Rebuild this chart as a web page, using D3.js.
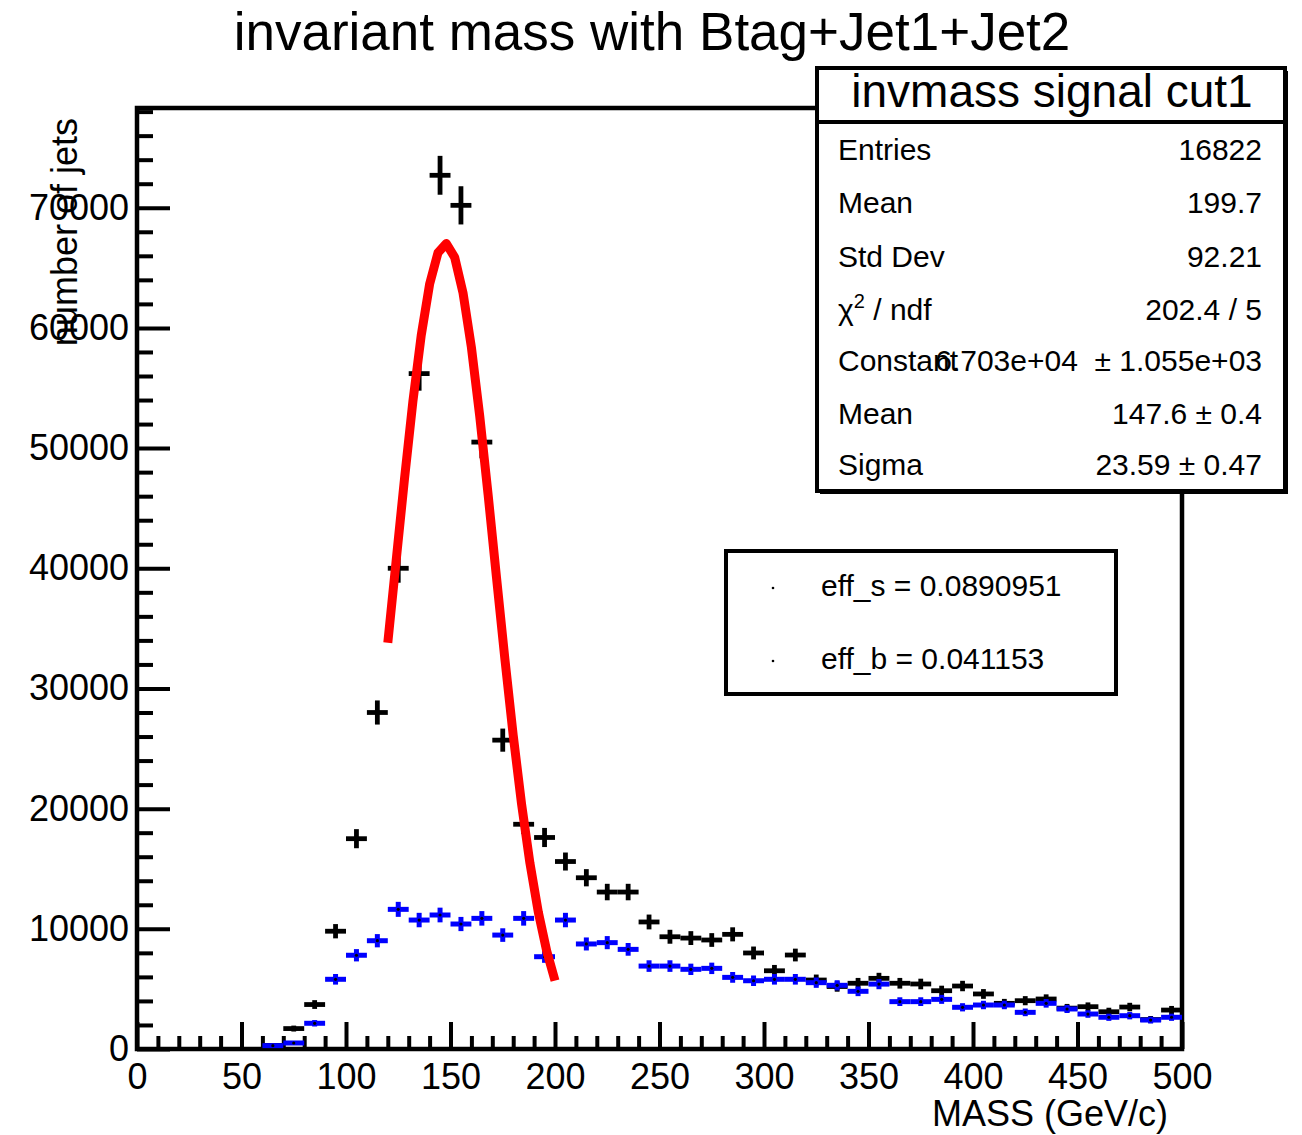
<!DOCTYPE html>
<html><head><meta charset="utf-8">
<script src="https://cdn.jsdelivr.net/npm/d3@7"></script>
<style>
body{margin:0;background:#fff}
svg{display:block}
text{font-family:"Liberation Sans",Arial,Helvetica,sans-serif;fill:#000}
</style>
</head><body>
<svg id="c" width="1302" height="1135"></svg>
<script>
// ---------------- data ----------------
const binCenters = [65,75,85,95,105,115,125,135,145,155,165,175,185,195,205,215,225,235,245,255,265,275,285,295,305,315,325,335,345,355,365,375,385,395,405,415,425,435,445,455,465,475,485,495];
const binWidth = 10;
// black histogram (signal, with fit)
const sigValues = [300,1700,3700,9800,17500,28000,40000,56200,72700,70200,50500,25700,18700,17600,15600,14250,13060,13060,10570,9340,9230,9070,9540,7990,6510,7820,5740,5200,5470,5880,5470,5410,4850,5240,4580,3800,4020,4160,3400,3520,3100,3490,2450,3240];
const sigErrors = [104,247,365,594,794,1004,1200,1422,1618,1590,1348,962,820,796,749,716,686,686,617,580,576,571,586,536,484,531,455,433,444,460,444,441,418,434,406,370,380,387,350,356,334,354,297,342];
// blue histogram
const bkgValues = [280,500,2140,5800,7800,9010,11620,10730,11150,10400,10870,9480,10870,7680,10730,8740,8850,8290,6900,6900,6630,6710,5960,5680,5800,5800,5520,5300,4800,5400,3940,3940,4130,3470,3660,3660,3050,3800,3330,2910,2640,2770,2410,2640];
const bkgErrors = [97,130,268,442,512,551,625,601,612,591,605,565,605,508,601,542,546,528,482,482,472,475,448,437,442,442,431,422,402,426,364,364,373,342,351,351,320,358,335,313,298,305,285,298];
// gaussian fit curve samples (Constant 6.703e+04, Mean 147.6, Sigma 23.59)
const fitX = [120,124,128,132,136,140,144,148,152,156,160,164,168,172,176,180,184,188,192,196,200];
const fitY = [33810,40640,47460,53870,59390,63640,66250,67020,65870,62910,58380,52640,46120,39260,32480,26100,20380,15470,11400,8170,5690];
// axes
const xTickValues = [0,50,100,150,200,250,300,350,400,450,500];
const yTickValues = [0,10000,20000,30000,40000,50000,60000,70000];
const xDomain = [0,500];
const yDomain = [0,78300];
// texts
const titleText = "invariant mass with Btag+Jet1+Jet2";
const xTitle = "MASS (GeV/c)";
const yTitle = "number of jets";
const statsTitle = "invmass signal cut1";
const statsLabels = ["Entries","Mean","Std Dev","CHI","Constant","Mean","Sigma"];
const statsValues = ["16822","199.7","92.21","202.4 / 5","6.703e+04  \u00b1 1.055e+03","147.6 \u00b1 0.4","23.59 \u00b1 0.47"];
const legendLabels = ["eff_s = 0.0890951","eff_b = 0.041153"];

// ---------------- layout ----------------
const svg = d3.select("#c");
const L=137,R=1182,T=108,B=1049;
const x = d3.scaleLinear().domain(xDomain).range([L,R]);
const y = d3.scaleLinear().domain(yDomain).range([B,T]);

// title
svg.append("text").attr("x",652).attr("y",50).attr("text-anchor","middle")
  .style("font-size","53px").text(titleText);

// minor ticks
const yMinor = d3.range(0,78001,2000).filter(v=>v%10000!==0);
const xMinor = d3.range(0,501,10).filter(v=>v%50!==0);

const gy = svg.append("g").attr("transform",`translate(${L},0)`);
gy.call(d3.axisLeft(y).tickValues(yTickValues).tickSize(-33).tickPadding(8).tickFormat(d3.format("d")));
gy.call(g=>g.select(".domain").remove());
gy.selectAll(".tick line").attr("stroke","#000").attr("stroke-width",4);
gy.selectAll(".tick text").style("font-size","36px").style("font-family","Liberation Sans, Arial, sans-serif").attr("fill","#000");
const gym = svg.append("g").attr("transform",`translate(${L},0)`);
gym.call(d3.axisLeft(y).tickValues(yMinor).tickSize(-16).tickFormat(""));
gym.call(g=>g.select(".domain").remove());
gym.selectAll(".tick line").attr("stroke","#000").attr("stroke-width",4);

const gx = svg.append("g").attr("transform",`translate(0,${B})`);
gx.call(d3.axisBottom(x).tickValues(xTickValues).tickSize(-27).tickPadding(14).tickFormat(d3.format("d")));
gx.call(g=>g.select(".domain").remove());
gx.selectAll(".tick line").attr("stroke","#000").attr("stroke-width",4);
gx.selectAll(".tick text").style("font-size","36px").style("font-family","Liberation Sans, Arial, sans-serif").attr("fill","#000");
const gxm = svg.append("g").attr("transform",`translate(0,${B})`);
gxm.call(d3.axisBottom(x).tickValues(xMinor).tickSize(-13).tickFormat(""));
gxm.call(g=>g.select(".domain").remove());
gxm.selectAll(".tick line").attr("stroke","#000").attr("stroke-width",4);

// frame
svg.append("rect").attr("x",L).attr("y",T).attr("width",R-L).attr("height",B-T)
  .attr("fill","none").attr("stroke","#000").attr("stroke-width",4.5);

// axis titles
svg.append("text").attr("x",1168).attr("y",1126).attr("text-anchor","end")
  .style("font-size","36px").text(xTitle);
svg.append("text").attr("transform","translate(77,118) rotate(-90)").attr("text-anchor","end")
  .style("font-size","36px").text(yTitle);

// histograms with error crosses
function drawHist(vals, errs, color, sw){
  const g = svg.append("g").attr("stroke",color).attr("stroke-width",sw);
  binCenters.forEach((c,i)=>{
    g.append("line").attr("x1",x(c-binWidth/2)).attr("x2",x(c+binWidth/2))
      .attr("y1",y(vals[i])).attr("y2",y(vals[i]));
    g.append("line").attr("x1",x(c)).attr("x2",x(c))
      .attr("y1",y(Math.max(0,vals[i]-errs[i]))).attr("y2",y(vals[i]+errs[i]));
  });
  return g;
}
drawHist(sigValues, sigErrors, "#000", 4.8);
drawHist(bkgValues, bkgErrors, "#0000ff", 5);
svg.append("g").selectAll("circle").data(binCenters).join("circle")
  .attr("cx",d=>x(d)).attr("cy",(d,i)=>y(bkgValues[i])).attr("r",1.6).attr("fill","#000");

// fit curve
const line = d3.line().x(d=>x(d[0])).y(d=>y(d[1]));
svg.append("path").datum(fitX.map((v,i)=>[v,fitY[i]])).attr("d",line)
  .attr("fill","none").attr("stroke","#ff0000").attr("stroke-width",9).attr("stroke-linejoin","round");

// stats box
const sb = {x:817,y:68,w:468,h:423};
svg.append("rect").attr("x",sb.x+3).attr("y",sb.y+3).attr("width",sb.w).attr("height",sb.h).attr("fill","#000");
svg.append("rect").attr("x",sb.x).attr("y",sb.y).attr("width",sb.w).attr("height",sb.h)
  .attr("fill","#fff").attr("stroke","#000").attr("stroke-width",4);
svg.append("line").attr("x1",sb.x).attr("x2",sb.x+sb.w).attr("y1",122).attr("y2",122)
  .attr("stroke","#000").attr("stroke-width",4);
svg.append("text").attr("x",sb.x+sb.w/2+1).attr("y",107).attr("text-anchor","middle")
  .style("font-size","46px").text(statsTitle);
const rowBase = [160,213,267,320,371,424,475];
statsLabels.forEach((lab,i)=>{
  const t = svg.append("text").attr("x",838).attr("y",rowBase[i]).style("font-size","30px");
  if(lab==="CHI"){
    t.append("tspan").text("\u03c7");
    t.append("tspan").attr("dy",-12).style("font-size","20px").text("2");
    t.append("tspan").attr("dy",12).text(" / ndf");
  } else t.text(lab);
  svg.append("text").attr("x",1262).attr("y",rowBase[i]).attr("text-anchor","end")
    .style("font-size","30px").style("white-space","pre").attr("xml:space","preserve").text(statsValues[i]);
});

// legend box
const lb = {x:726,y:551,w:390,h:143};
svg.append("rect").attr("x",lb.x+2).attr("y",lb.y+2).attr("width",lb.w).attr("height",lb.h).attr("fill","#000");
svg.append("rect").attr("x",lb.x).attr("y",lb.y).attr("width",lb.w).attr("height",lb.h)
  .attr("fill","#fff").attr("stroke","#000").attr("stroke-width",4);
const legY = [596,669];
legendLabels.forEach((lab,i)=>{
  svg.append("circle").attr("cx",773).attr("cy",legY[i]-8).attr("r",1.3).attr("fill","#000");
  svg.append("text").attr("x",821).attr("y",legY[i]).style("font-size","30px").text(lab);
});
</script>
</body></html>
